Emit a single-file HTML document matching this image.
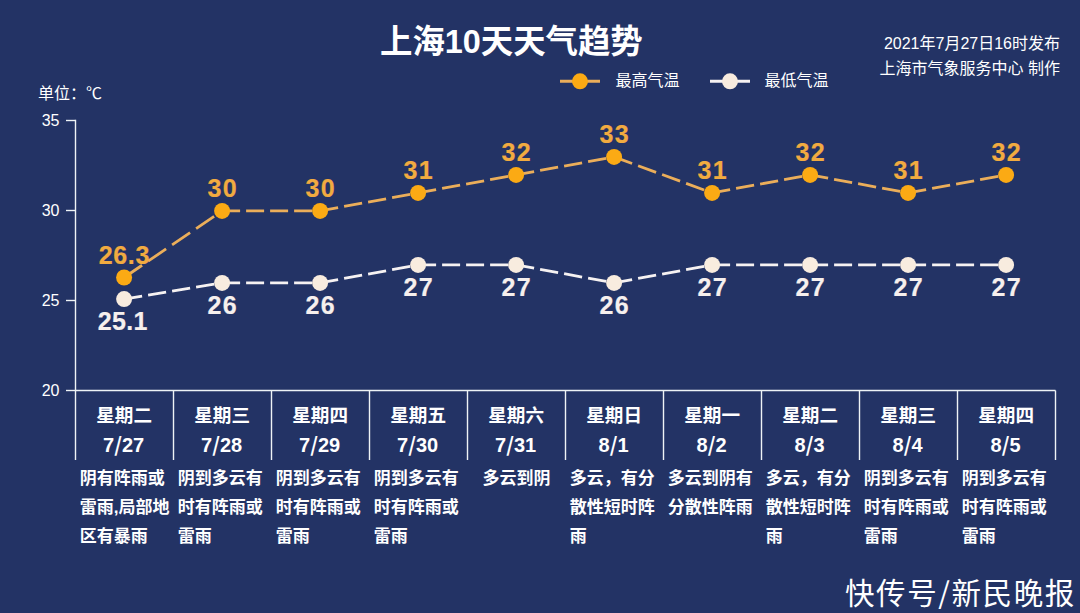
<!DOCTYPE html>
<html lang="zh-CN"><head><meta charset="utf-8"><title>上海10天天气趋势</title>
<style>
html,body{margin:0;padding:0;background:#233365;}
body{width:1080px;height:613px;overflow:hidden;}
svg{display:block;}
.t{font-family:'Liberation Sans','Noto Sans CJK SC',sans-serif;}
.c{font-family:'Noto Sans CJK SC',sans-serif;}
</style></head><body>
<svg width="1080" height="613" viewBox="0 0 1080 613">
<rect x="0" y="0" width="1080" height="613" fill="#233365"/>
<text x="380" y="53.2" font-size="32.4" font-weight="bold" fill="#ffffff" class="t">上海10天天气趋势</text>
<text x="1060" y="49" font-size="16" fill="#ffffff" text-anchor="end" class="t">2021年7月27日16时发布</text>
<text x="1060" y="74" font-size="16" fill="#ffffff" text-anchor="end" class="t">上海市气象服务中心 制作</text>
<line x1="560" y1="81.3" x2="600" y2="81.3" stroke="#EBAE5A" stroke-width="3"/>
<circle cx="580" cy="81.3" r="8" fill="#FBAA14"/>
<text x="615.5" y="86" font-size="16" fill="#ffffff" class="t">最高气温</text>
<line x1="710" y1="81.3" x2="750" y2="81.3" stroke="#F6F2F2" stroke-width="3"/>
<circle cx="730" cy="81.3" r="8" fill="#F8ECDF"/>
<text x="764.5" y="86" font-size="16" fill="#ffffff" class="t">最低气温</text>
<text x="38" y="99" font-size="16" fill="#ffffff" class="t">单位：℃</text>
<line x1="75.5" y1="119.8" x2="75.5" y2="460" stroke="#EEF3F6" stroke-width="1.4"/>
<line x1="66" y1="120.5" x2="75.5" y2="120.5" stroke="#EEF3F6" stroke-width="1.4"/>
<text x="59.5" y="126.1" font-size="16" fill="#ffffff" text-anchor="end" class="t">35</text>
<line x1="66" y1="210.5" x2="75.5" y2="210.5" stroke="#EEF3F6" stroke-width="1.4"/>
<text x="59.5" y="216.1" font-size="16" fill="#ffffff" text-anchor="end" class="t">30</text>
<line x1="66" y1="300.5" x2="75.5" y2="300.5" stroke="#EEF3F6" stroke-width="1.4"/>
<text x="59.5" y="306.1" font-size="16" fill="#ffffff" text-anchor="end" class="t">25</text>
<line x1="66" y1="390.5" x2="75.5" y2="390.5" stroke="#EEF3F6" stroke-width="1.4"/>
<text x="59.5" y="396.1" font-size="16" fill="#ffffff" text-anchor="end" class="t">20</text>
<line x1="75.5" y1="390.5" x2="1055.5" y2="390.5" stroke="#EEF3F6" stroke-width="1.4"/>
<line x1="173.5" y1="390.5" x2="173.5" y2="460" stroke="#EEF3F6" stroke-width="1.4"/>
<line x1="271.5" y1="390.5" x2="271.5" y2="460" stroke="#EEF3F6" stroke-width="1.4"/>
<line x1="369.5" y1="390.5" x2="369.5" y2="460" stroke="#EEF3F6" stroke-width="1.4"/>
<line x1="467.5" y1="390.5" x2="467.5" y2="460" stroke="#EEF3F6" stroke-width="1.4"/>
<line x1="565.5" y1="390.5" x2="565.5" y2="460" stroke="#EEF3F6" stroke-width="1.4"/>
<line x1="663.5" y1="390.5" x2="663.5" y2="460" stroke="#EEF3F6" stroke-width="1.4"/>
<line x1="761.5" y1="390.5" x2="761.5" y2="460" stroke="#EEF3F6" stroke-width="1.4"/>
<line x1="859.5" y1="390.5" x2="859.5" y2="460" stroke="#EEF3F6" stroke-width="1.4"/>
<line x1="957.5" y1="390.5" x2="957.5" y2="460" stroke="#EEF3F6" stroke-width="1.4"/>
<line x1="1055.5" y1="390.5" x2="1055.5" y2="460" stroke="#EEF3F6" stroke-width="1.4"/>
<text x="124.1" y="421.5" font-size="18.6" font-weight="bold" fill="#ffffff" text-anchor="middle" class="t">星期二</text>
<text x="123.6" y="452" font-size="20" font-weight="bold" fill="#ffffff" text-anchor="middle" class="t">7<tspan class="c">/</tspan>27</text>
<text x="222.1" y="421.5" font-size="18.6" font-weight="bold" fill="#ffffff" text-anchor="middle" class="t">星期三</text>
<text x="221.6" y="452" font-size="20" font-weight="bold" fill="#ffffff" text-anchor="middle" class="t">7<tspan class="c">/</tspan>28</text>
<text x="320.1" y="421.5" font-size="18.6" font-weight="bold" fill="#ffffff" text-anchor="middle" class="t">星期四</text>
<text x="319.6" y="452" font-size="20" font-weight="bold" fill="#ffffff" text-anchor="middle" class="t">7<tspan class="c">/</tspan>29</text>
<text x="418.1" y="421.5" font-size="18.6" font-weight="bold" fill="#ffffff" text-anchor="middle" class="t">星期五</text>
<text x="417.6" y="452" font-size="20" font-weight="bold" fill="#ffffff" text-anchor="middle" class="t">7<tspan class="c">/</tspan>30</text>
<text x="516.1" y="421.5" font-size="18.6" font-weight="bold" fill="#ffffff" text-anchor="middle" class="t">星期六</text>
<text x="515.6" y="452" font-size="20" font-weight="bold" fill="#ffffff" text-anchor="middle" class="t">7<tspan class="c">/</tspan>31</text>
<text x="614.1" y="421.5" font-size="18.6" font-weight="bold" fill="#ffffff" text-anchor="middle" class="t">星期日</text>
<text x="613.6" y="452" font-size="20" font-weight="bold" fill="#ffffff" text-anchor="middle" class="t">8<tspan class="c">/</tspan>1</text>
<text x="712.1" y="421.5" font-size="18.6" font-weight="bold" fill="#ffffff" text-anchor="middle" class="t">星期一</text>
<text x="711.6" y="452" font-size="20" font-weight="bold" fill="#ffffff" text-anchor="middle" class="t">8<tspan class="c">/</tspan>2</text>
<text x="810.1" y="421.5" font-size="18.6" font-weight="bold" fill="#ffffff" text-anchor="middle" class="t">星期二</text>
<text x="809.6" y="452" font-size="20" font-weight="bold" fill="#ffffff" text-anchor="middle" class="t">8<tspan class="c">/</tspan>3</text>
<text x="908.1" y="421.5" font-size="18.6" font-weight="bold" fill="#ffffff" text-anchor="middle" class="t">星期三</text>
<text x="907.6" y="452" font-size="20" font-weight="bold" fill="#ffffff" text-anchor="middle" class="t">8<tspan class="c">/</tspan>4</text>
<text x="1006.1" y="421.5" font-size="18.6" font-weight="bold" fill="#ffffff" text-anchor="middle" class="t">星期四</text>
<text x="1005.6" y="452" font-size="20" font-weight="bold" fill="#ffffff" text-anchor="middle" class="t">8<tspan class="c">/</tspan>5</text>
<text x="79.7" y="483.5" font-size="17" font-weight="bold" fill="#ffffff" class="t">阴有阵雨或</text>
<text x="79.7" y="512.7" font-size="17" font-weight="bold" fill="#ffffff" class="t">雷雨,局部地</text>
<text x="79.7" y="541.9" font-size="17" font-weight="bold" fill="#ffffff" class="t">区有暴雨</text>
<text x="177.7" y="483.5" font-size="17" font-weight="bold" fill="#ffffff" class="t">阴到多云有</text>
<text x="177.7" y="512.7" font-size="17" font-weight="bold" fill="#ffffff" class="t">时有阵雨或</text>
<text x="177.7" y="541.9" font-size="17" font-weight="bold" fill="#ffffff" class="t">雷雨</text>
<text x="275.7" y="483.5" font-size="17" font-weight="bold" fill="#ffffff" class="t">阴到多云有</text>
<text x="275.7" y="512.7" font-size="17" font-weight="bold" fill="#ffffff" class="t">时有阵雨或</text>
<text x="275.7" y="541.9" font-size="17" font-weight="bold" fill="#ffffff" class="t">雷雨</text>
<text x="373.7" y="483.5" font-size="17" font-weight="bold" fill="#ffffff" class="t">阴到多云有</text>
<text x="373.7" y="512.7" font-size="17" font-weight="bold" fill="#ffffff" class="t">时有阵雨或</text>
<text x="373.7" y="541.9" font-size="17" font-weight="bold" fill="#ffffff" class="t">雷雨</text>
<text x="482.6" y="483.5" font-size="17" font-weight="bold" fill="#ffffff" class="t">多云到阴</text>
<text x="569.7" y="483.5" font-size="17" font-weight="bold" fill="#ffffff" class="t">多云，有分</text>
<text x="569.7" y="512.7" font-size="17" font-weight="bold" fill="#ffffff" class="t">散性短时阵</text>
<text x="569.7" y="541.9" font-size="17" font-weight="bold" fill="#ffffff" class="t">雨</text>
<text x="667.7" y="483.5" font-size="17" font-weight="bold" fill="#ffffff" class="t">多云到阴有</text>
<text x="667.7" y="512.7" font-size="17" font-weight="bold" fill="#ffffff" class="t">分散性阵雨</text>
<text x="765.7" y="483.5" font-size="17" font-weight="bold" fill="#ffffff" class="t">多云，有分</text>
<text x="765.7" y="512.7" font-size="17" font-weight="bold" fill="#ffffff" class="t">散性短时阵</text>
<text x="765.7" y="541.9" font-size="17" font-weight="bold" fill="#ffffff" class="t">雨</text>
<text x="863.7" y="483.5" font-size="17" font-weight="bold" fill="#ffffff" class="t">阴到多云有</text>
<text x="863.7" y="512.7" font-size="17" font-weight="bold" fill="#ffffff" class="t">时有阵雨或</text>
<text x="863.7" y="541.9" font-size="17" font-weight="bold" fill="#ffffff" class="t">雷雨</text>
<text x="961.7" y="483.5" font-size="17" font-weight="bold" fill="#ffffff" class="t">阴到多云有</text>
<text x="961.7" y="512.7" font-size="17" font-weight="bold" fill="#ffffff" class="t">时有阵雨或</text>
<text x="961.7" y="541.9" font-size="17" font-weight="bold" fill="#ffffff" class="t">雷雨</text>
<line x1="124.1" y1="277.5" x2="222.1" y2="210.9" stroke="#EBAE5A" stroke-width="2.8" pathLength="98.0" stroke-dasharray="18 6"/>
<line x1="222.1" y1="210.9" x2="320.1" y2="210.9" stroke="#EBAE5A" stroke-width="2.8" pathLength="98.0" stroke-dasharray="18 6"/>
<line x1="320.1" y1="210.9" x2="418.1" y2="192.9" stroke="#EBAE5A" stroke-width="2.8" pathLength="98.0" stroke-dasharray="18 6"/>
<line x1="418.1" y1="192.9" x2="516.1" y2="174.9" stroke="#EBAE5A" stroke-width="2.8" pathLength="98.0" stroke-dasharray="18 6"/>
<line x1="516.1" y1="174.9" x2="614.1" y2="156.9" stroke="#EBAE5A" stroke-width="2.8" pathLength="98.0" stroke-dasharray="18 6"/>
<line x1="614.1" y1="156.9" x2="712.1" y2="192.9" stroke="#EBAE5A" stroke-width="2.8" pathLength="98.0" stroke-dasharray="18 6"/>
<line x1="712.1" y1="192.9" x2="810.1" y2="174.9" stroke="#EBAE5A" stroke-width="2.8" pathLength="98.0" stroke-dasharray="18 6"/>
<line x1="810.1" y1="174.9" x2="908.1" y2="192.9" stroke="#EBAE5A" stroke-width="2.8" pathLength="98.0" stroke-dasharray="18 6"/>
<line x1="908.1" y1="192.9" x2="1006.1" y2="174.9" stroke="#EBAE5A" stroke-width="2.8" pathLength="98.0" stroke-dasharray="18 6"/>
<line x1="124.1" y1="299.1" x2="222.1" y2="282.9" stroke="#F6F2F2" stroke-width="2.8" pathLength="98.0" stroke-dasharray="18 6"/>
<line x1="222.1" y1="282.9" x2="320.1" y2="282.9" stroke="#F6F2F2" stroke-width="2.8" pathLength="98.0" stroke-dasharray="18 6"/>
<line x1="320.1" y1="282.9" x2="418.1" y2="264.9" stroke="#F6F2F2" stroke-width="2.8" pathLength="98.0" stroke-dasharray="18 6"/>
<line x1="418.1" y1="264.9" x2="516.1" y2="264.9" stroke="#F6F2F2" stroke-width="2.8" pathLength="98.0" stroke-dasharray="18 6"/>
<line x1="516.1" y1="264.9" x2="614.1" y2="282.9" stroke="#F6F2F2" stroke-width="2.8" pathLength="98.0" stroke-dasharray="18 6"/>
<line x1="614.1" y1="282.9" x2="712.1" y2="264.9" stroke="#F6F2F2" stroke-width="2.8" pathLength="98.0" stroke-dasharray="18 6"/>
<line x1="712.1" y1="264.9" x2="810.1" y2="264.9" stroke="#F6F2F2" stroke-width="2.8" pathLength="98.0" stroke-dasharray="18 6"/>
<line x1="810.1" y1="264.9" x2="908.1" y2="264.9" stroke="#F6F2F2" stroke-width="2.8" pathLength="98.0" stroke-dasharray="18 6"/>
<line x1="908.1" y1="264.9" x2="1006.1" y2="264.9" stroke="#F6F2F2" stroke-width="2.8" pathLength="98.0" stroke-dasharray="18 6"/>
<circle cx="124.1" cy="277.5" r="8" fill="#FBAA14"/>
<circle cx="124.1" cy="299.1" r="8" fill="#F8ECDF"/>
<circle cx="222.1" cy="210.9" r="8" fill="#FBAA14"/>
<circle cx="222.1" cy="282.9" r="8" fill="#F8ECDF"/>
<circle cx="320.1" cy="210.9" r="8" fill="#FBAA14"/>
<circle cx="320.1" cy="282.9" r="8" fill="#F8ECDF"/>
<circle cx="418.1" cy="192.9" r="8" fill="#FBAA14"/>
<circle cx="418.1" cy="264.9" r="8" fill="#F8ECDF"/>
<circle cx="516.1" cy="174.9" r="8" fill="#FBAA14"/>
<circle cx="516.1" cy="264.9" r="8" fill="#F8ECDF"/>
<circle cx="614.1" cy="156.9" r="8" fill="#FBAA14"/>
<circle cx="614.1" cy="282.9" r="8" fill="#F8ECDF"/>
<circle cx="712.1" cy="192.9" r="8" fill="#FBAA14"/>
<circle cx="712.1" cy="264.9" r="8" fill="#F8ECDF"/>
<circle cx="810.1" cy="174.9" r="8" fill="#FBAA14"/>
<circle cx="810.1" cy="264.9" r="8" fill="#F8ECDF"/>
<circle cx="908.1" cy="192.9" r="8" fill="#FBAA14"/>
<circle cx="908.1" cy="264.9" r="8" fill="#F8ECDF"/>
<circle cx="1006.1" cy="174.9" r="8" fill="#FBAA14"/>
<circle cx="1006.1" cy="264.9" r="8" fill="#F8ECDF"/>
<text x="124.4" y="263.5" font-size="25" letter-spacing="0.6" font-weight="bold" fill="#F1AB40" stroke="#F1AB40" stroke-width="0.2" stroke-linejoin="round" text-anchor="middle" class="t">26.3</text>
<text x="122.8" y="330.1" font-size="25" letter-spacing="0.3" font-weight="bold" fill="#F6F0EE" stroke="#F6F0EE" stroke-width="0.2" stroke-linejoin="round" text-anchor="middle" class="t">25.1</text>
<text x="222.8" y="196.9" font-size="25" letter-spacing="1.3" font-weight="bold" fill="#F1AB40" stroke="#F1AB40" stroke-width="0.2" stroke-linejoin="round" text-anchor="middle" class="t">30</text>
<text x="222.8" y="313.9" font-size="25" letter-spacing="1.3" font-weight="bold" fill="#F6F0EE" stroke="#F6F0EE" stroke-width="0.2" stroke-linejoin="round" text-anchor="middle" class="t">26</text>
<text x="320.8" y="196.9" font-size="25" letter-spacing="1.3" font-weight="bold" fill="#F1AB40" stroke="#F1AB40" stroke-width="0.2" stroke-linejoin="round" text-anchor="middle" class="t">30</text>
<text x="320.8" y="313.9" font-size="25" letter-spacing="1.3" font-weight="bold" fill="#F6F0EE" stroke="#F6F0EE" stroke-width="0.2" stroke-linejoin="round" text-anchor="middle" class="t">26</text>
<text x="418.8" y="178.9" font-size="25" letter-spacing="1.3" font-weight="bold" fill="#F1AB40" stroke="#F1AB40" stroke-width="0.2" stroke-linejoin="round" text-anchor="middle" class="t">31</text>
<text x="418.8" y="295.9" font-size="25" letter-spacing="1.3" font-weight="bold" fill="#F6F0EE" stroke="#F6F0EE" stroke-width="0.2" stroke-linejoin="round" text-anchor="middle" class="t">27</text>
<text x="516.8" y="160.9" font-size="25" letter-spacing="1.3" font-weight="bold" fill="#F1AB40" stroke="#F1AB40" stroke-width="0.2" stroke-linejoin="round" text-anchor="middle" class="t">32</text>
<text x="516.8" y="295.9" font-size="25" letter-spacing="1.3" font-weight="bold" fill="#F6F0EE" stroke="#F6F0EE" stroke-width="0.2" stroke-linejoin="round" text-anchor="middle" class="t">27</text>
<text x="614.8" y="142.9" font-size="25" letter-spacing="1.3" font-weight="bold" fill="#F1AB40" stroke="#F1AB40" stroke-width="0.2" stroke-linejoin="round" text-anchor="middle" class="t">33</text>
<text x="614.8" y="313.9" font-size="25" letter-spacing="1.3" font-weight="bold" fill="#F6F0EE" stroke="#F6F0EE" stroke-width="0.2" stroke-linejoin="round" text-anchor="middle" class="t">26</text>
<text x="712.8" y="178.9" font-size="25" letter-spacing="1.3" font-weight="bold" fill="#F1AB40" stroke="#F1AB40" stroke-width="0.2" stroke-linejoin="round" text-anchor="middle" class="t">31</text>
<text x="712.8" y="295.9" font-size="25" letter-spacing="1.3" font-weight="bold" fill="#F6F0EE" stroke="#F6F0EE" stroke-width="0.2" stroke-linejoin="round" text-anchor="middle" class="t">27</text>
<text x="810.8" y="160.9" font-size="25" letter-spacing="1.3" font-weight="bold" fill="#F1AB40" stroke="#F1AB40" stroke-width="0.2" stroke-linejoin="round" text-anchor="middle" class="t">32</text>
<text x="810.8" y="295.9" font-size="25" letter-spacing="1.3" font-weight="bold" fill="#F6F0EE" stroke="#F6F0EE" stroke-width="0.2" stroke-linejoin="round" text-anchor="middle" class="t">27</text>
<text x="908.8" y="178.9" font-size="25" letter-spacing="1.3" font-weight="bold" fill="#F1AB40" stroke="#F1AB40" stroke-width="0.2" stroke-linejoin="round" text-anchor="middle" class="t">31</text>
<text x="908.8" y="295.9" font-size="25" letter-spacing="1.3" font-weight="bold" fill="#F6F0EE" stroke="#F6F0EE" stroke-width="0.2" stroke-linejoin="round" text-anchor="middle" class="t">27</text>
<text x="1006.8" y="160.9" font-size="25" letter-spacing="1.3" font-weight="bold" fill="#F1AB40" stroke="#F1AB40" stroke-width="0.2" stroke-linejoin="round" text-anchor="middle" class="t">32</text>
<text x="1006.8" y="295.9" font-size="25" letter-spacing="1.3" font-weight="bold" fill="#F6F0EE" stroke="#F6F0EE" stroke-width="0.2" stroke-linejoin="round" text-anchor="middle" class="t">27</text>
<text x="845" y="604" font-size="29.5" letter-spacing="1.6" fill="#ffffff" class="t">快传号<tspan class="c">/</tspan>新民晚报</text>
</svg>
</body></html>
